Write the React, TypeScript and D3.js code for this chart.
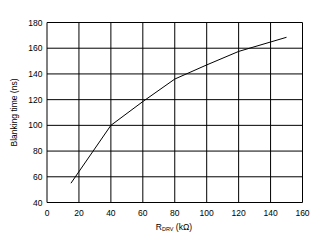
import React from "react";
import * as d3 from "d3";

const rdrv = [15, 40, 60, 80, 100, 120, 150];
const blanking = [55, 100, 118.5, 136, 147, 157.5, 168.5];
const xTicks = [0, 20, 40, 60, 80, 100, 120, 140, 160];
const yTicks = [40, 60, 80, 100, 120, 140, 160, 180];

export default function App() {
  const W = 324, H = 243;
  const x = d3.scaleLinear().domain([0, 160]).range([47, 302.5]);
  const y = d3.scaleLinear().domain([40, 180]).range([202.5, 22.5]);
  const line = d3.line<number>().x((_, i) => x(rdrv[i])).y((d) => y(d));
  const font = "'Liberation Sans', Arial, sans-serif";
  return (
    <svg width={W} height={H} style={{ position: "absolute", left: 0, top: 0 }} fontFamily={font}>
      <rect width={W} height={H} fill="white" />
      {xTicks.map((t) => (
        <line key={"gx" + t} x1={x(t)} x2={x(t)} y1={y(180)} y2={y(40)} stroke="black" strokeWidth={1} />
      ))}
      {yTicks.map((t) => (
        <line key={"gy" + t} x1={x(0)} x2={x(160)} y1={y(t)} y2={y(t)} stroke="black" strokeWidth={1} />
      ))}
      <path d={line(blanking) || ""} fill="none" stroke="black" strokeWidth={1} />
      {xTicks.map((t) => (
        <text key={"tx" + t} x={x(t)} y={216} fontSize={8.5} textAnchor="middle" fill="black">{t}</text>
      ))}
      {yTicks.map((t) => (
        <text key={"ty" + t} x={42.5} y={y(t) + 3} fontSize={8.5} textAnchor="end" fill="black">{t}</text>
      ))}
      <text x={174} y={229.5} fontSize={8.5} textAnchor="middle" fill="black">
        R<tspan fontSize={5.5} dy={1.5}>DRV</tspan><tspan dy={-1.5}> (kΩ)</tspan>
      </text>
      <text transform={`translate(16.5,112.5) rotate(-90)`} fontSize={8.5} textAnchor="middle" fill="black">Blanking time (ns)</text>
    </svg>
  );
}
